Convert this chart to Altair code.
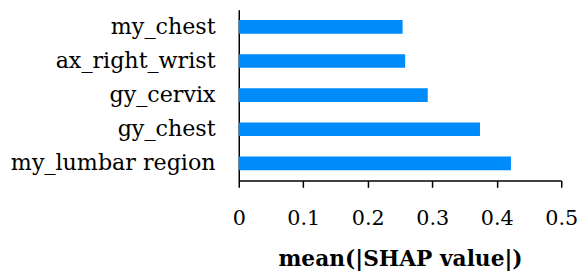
import altair as alt
import pandas as pd

features = ["my_chest", "ax_right_wrist", "gy_cervix", "gy_chest", "my_lumbar region"]
values = [0.254, 0.258, 0.293, 0.374, 0.422]
x_ticks = [0, 0.1, 0.2, 0.3, 0.4, 0.5]

df = pd.DataFrame({"feature": features, "value": values})

FONT = "DejaVu Serif"

chart = (
    alt.Chart(df)
    .mark_bar(color="#008bfb")
    .encode(
        x=alt.X(
            "value:Q",
            scale=alt.Scale(domain=[0, 0.5], nice=False),
            axis=alt.Axis(
                values=x_ticks,
                format="~g",
                title="mean(|SHAP value|)",
                grid=False,
                domainColor="black",
                tickColor="black",
                tickSize=7,
                domainWidth=1.5,
                tickWidth=1.5,
                labelFont=FONT,
                labelFontSize=21,
                labelColor="black",
                labelPadding=21,
                titleFont=FONT,
                titleFontSize=22,
                titleFontWeight="bold",
                titleColor="black",
                titlePadding=20,
                labelFlush=False,
            ),
        ),
        y=alt.Y(
            "feature:N",
            sort=features,
            scale=alt.Scale(paddingInner=0.6, paddingOuter=0.3),
            axis=alt.Axis(
                title=None,
                ticks=False,
                domainColor="black",
                domainWidth=1.5,
                labelFont=FONT,
                labelFontSize=22.5,
                labelColor="black",
                labelPadding=24,
                labelLimit=400,
            ),
        ),
    )
    .properties(
        width=327,
        height=173,
        autosize=alt.AutoSizeParams(type="none"),
        padding={"left": 234, "top": 0, "right": 18, "bottom": 90},
    )
    .configure_view(stroke=None)
)

chart.save("out.html", embed_options={"renderer": "svg", "actions": False})
